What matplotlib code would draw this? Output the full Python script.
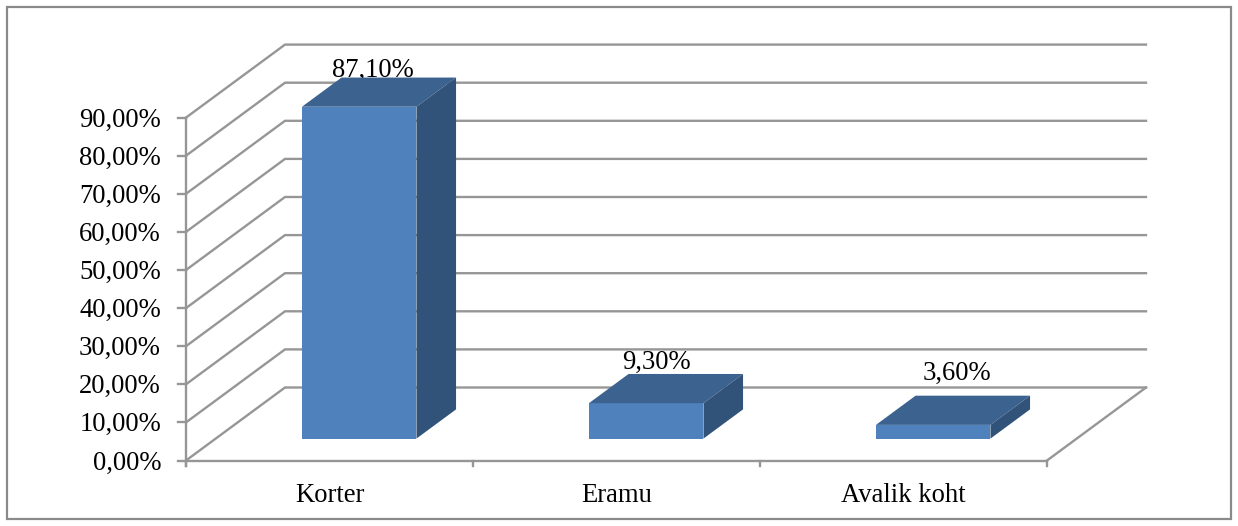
import matplotlib
matplotlib.use("Agg")
import matplotlib.pyplot as plt
from matplotlib.patches import Polygon, Rectangle

# Data
Categories = ["Korter", "Eramu", "Avalik koht"]
Values = [87.10, 9.30, 3.60]
ValueLabels = ["87,10%", "9,30%", "3,60%"]
Ticks = [0, 10, 20, 30, 40, 50, 60, 70, 80, 90]
TickLabels = ["0,00%", "10,00%", "20,00%", "30,00%", "40,00%",
              "50,00%", "60,00%", "70,00%", "80,00%", "90,00%"]

# Layout, in pixels of the 1238x526 picture
X0, X1 = 186, 1047
Y0 = 460.5
PerUnit = 3.81      # pixels per percent
DepthX, DepthY = 99, -73
BarWidth = 114.5
BarDepth = 0.4      # part of the floor depth taken by the bars
BarFront = 0.3      # where the front of the bar stands in the floor depth
LabelShifts = [(14, -36), (10, -41), (24, -51)]  # value label, from top of the bar
FontSize = 19.2

LINE = "#969696"
FRONT = "#4f81bd"
TOP = "#3c6290"
SIDE = "#325379"

def yPos(Value):
    return Y0 - Value * PerUnit

def catCenter(Index):
    return X0 + (X1 - X0) * (Index + 0.5) / len(Categories)

plt.rcParams['font.family'] = ['Liberation Serif', 'DejaVu Serif']
fig = plt.figure(figsize=(12.38, 5.26), dpi=100)
ax = fig.add_axes([0, 0, 1, 1])
ax.set_xlim(0, 1238)
ax.set_ylim(526, 0)
ax.axis("off")

# Outer frame
ax.add_patch(Rectangle((7, 7), 1224, 512, fill=False, edgecolor="#8a8a8a", linewidth=1.6))

# Back wall gridlines and side wall diagonals
for Value in Ticks:
    Y = yPos(Value)
    ax.plot([X0, X0 + DepthX, X1 + DepthX], [Y, Y + DepthY, Y + DepthY],
            color=LINE, linewidth=1.7, solid_joinstyle="miter", zorder=1)

# Floor, right edge
ax.plot([X1, X1 + DepthX], [Y0, Y0 + DepthY], color=LINE, linewidth=1.7, zorder=1)

# Front axes
ax.plot([X0, X0], [yPos(0) + 5, yPos(Ticks[-1])], color=LINE, linewidth=1.7, zorder=2)
ax.plot([X0, X1], [Y0, Y0], color=LINE, linewidth=1.7, zorder=2)
for Value, Label in zip(Ticks, TickLabels):
    ax.plot([X0 - 8, X0], [yPos(Value), yPos(Value)], color=LINE, linewidth=1.7, zorder=2)
    ax.text(161, yPos(Value) + 2.5, Label, ha="right", va="center", fontsize=FontSize, color="black")
for i in range(len(Categories) + 1):
    X = X0 + (X1 - X0) * i / len(Categories)
    ax.plot([X, X], [Y0, Y0 + 5], color=LINE, linewidth=1.7, zorder=2)

# Bars
Dx = DepthX * BarDepth
Dy = DepthY * BarDepth
BaseX = DepthX * BarFront
BaseY = DepthY * BarFront
for i, (Value, Label, Cat) in enumerate(zip(Values, ValueLabels, Categories)):
    Left = catCenter(i) - BarWidth / 2 + BaseX
    Right = Left + BarWidth
    Bottom = yPos(0) + BaseY
    Top = Bottom - Value * PerUnit
    ax.add_patch(Polygon([(Left, Bottom), (Right, Bottom), (Right, Top), (Left, Top)],
                         facecolor=FRONT, edgecolor="none", zorder=3))
    ax.add_patch(Polygon([(Left, Top), (Right, Top), (Right + Dx, Top + Dy), (Left + Dx, Top + Dy)],
                         facecolor=TOP, edgecolor="none", zorder=3))
    ax.add_patch(Polygon([(Right, Bottom), (Right + Dx, Bottom + Dy), (Right + Dx, Top + Dy), (Right, Top)],
                         facecolor=SIDE, edgecolor="none", zorder=3))
    ShiftX, ShiftY = LabelShifts[i]
    ax.text(Left + BarWidth / 2 + ShiftX, Top + ShiftY, Label, ha="center", va="center",
            fontsize=FontSize, color="black", zorder=2)
    ax.text(catCenter(i), 496, Cat, ha="center", va="center", fontsize=FontSize, color="black")

fig.savefig("out.png", dpi=100)
